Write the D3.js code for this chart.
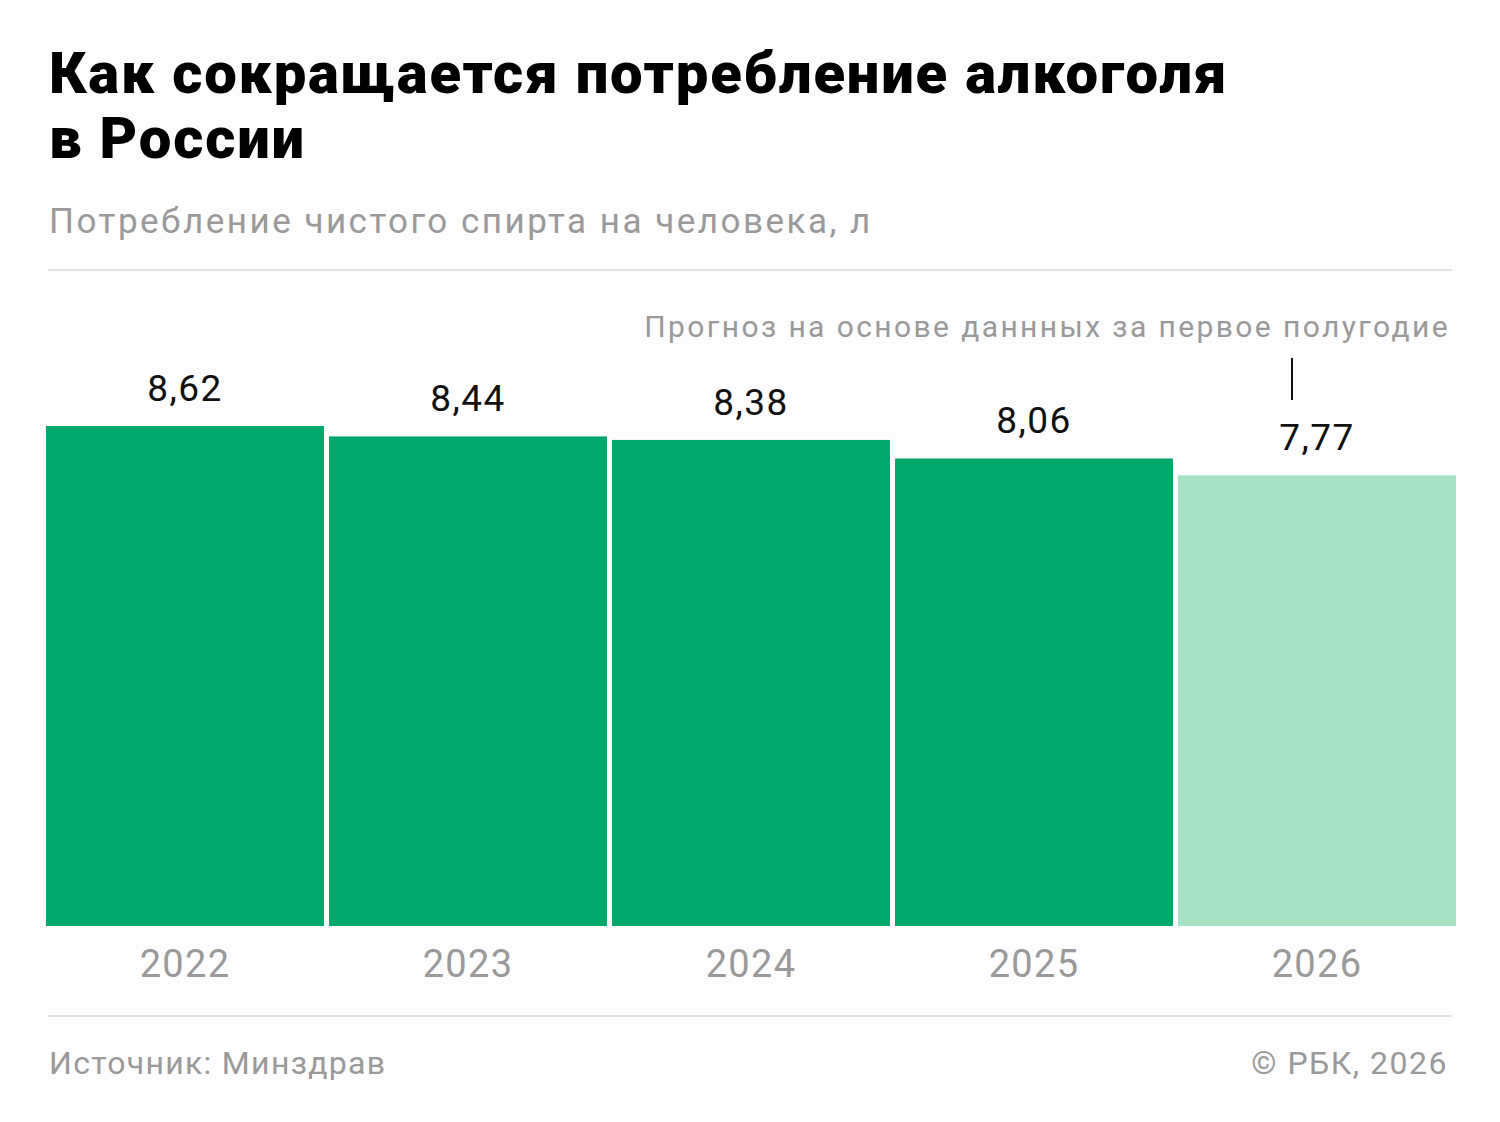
<!DOCTYPE html>
<html>
<head>
<meta charset="utf-8">
<script src="https://cdn.jsdelivr.net/npm/d3@7"></script>
<style>
  html, body { margin: 0; padding: 0; background: #fdfdfd; }
  svg { display: block; font-family: Roboto, "Noto Sans", sans-serif; }
</style>
</head>
<body>
<svg id="chart_svg" width="1500" height="1122"></svg>
<script>
// data
const years = ["2022", "2023", "2024", "2025", "2026"]
const values = [8.62, 8.44, 8.38, 8.06, 7.77]
const forecast = [false, false, false, false, true]
const value_labels = ["8,62", "8,44", "8,38", "8,06", "7,77"]

const title_lines = ["Как сокращается потребление алкоголя", "в России"]
const subtitle = "Потребление чистого спирта на человека, л"
const note = "Прогноз на основе даннных за первое полугодие"
const source = "Источник: Минздрав"
const copyright = "© РБК, 2026"

const width = 1500
const height = 1122
const margin = { left: 46, right: 44, top: 426, bottom: 196 }

let svg = d3.select("#chart_svg")

svg.append("rect")
  .attr("width", width)
  .attr("height", height)
  .attr("fill", "#fdfdfd")

/**
 * Title and subtitle
 */
svg.selectAll(".title")
  .data(title_lines)
  .enter()
  .append("text")
  .attr("class", "title")
  .attr("x", 49)
  .attr("y", (d, i) => 93 + i * 65)
  .attr("font-size", 58)
  .attr("font-weight", 900)
  .attr("letter-spacing", 1.8)
  .attr("fill", "#000")
  .text((d) => d)

svg.append("text")
  .attr("x", 49)
  .attr("y", 233)
  .attr("font-size", 35)
  .attr("letter-spacing", 2.5)
  .attr("fill", "#9a9a9a")
  .text(subtitle)

svg.append("line")
  .attr("x1", 48).attr("x2", 1452)
  .attr("y1", 270).attr("y2", 270)
  .attr("stroke", "#e2e2e2")
  .attr("stroke-width", 2)

/**
 * Scales
 */
const xScale = d3.scaleBand()
  .domain(years)
  .range([margin.left, width - margin.right])
  .paddingInner(0.0177)
  .paddingOuter(0)

const yScale = d3.scaleLinear()
  .domain([0, d3.max(values)])
  .range([height - margin.bottom, margin.top])

const data = years.map((y, i) => ({ year: y, value: values[i], label: value_labels[i], forecast: forecast[i] }))

/**
 * Bars
 */
svg.selectAll(".bar")
  .data(data)
  .enter()
  .append("rect")
  .attr("class", "bar")
  .attr("x", (d) => xScale(d.year))
  .attr("y", (d) => yScale(d.value))
  .attr("width", xScale.bandwidth())
  .attr("height", (d) => yScale(0) - yScale(d.value))
  .attr("fill", (d) => d.forecast ? "#a8e2c6" : "#00a86b")

svg.selectAll(".value_label")
  .data(data)
  .enter()
  .append("text")
  .attr("class", "value_label")
  .attr("x", (d) => xScale(d.year) + xScale.bandwidth() / 2)
  .attr("y", (d) => yScale(d.value) - 25)
  .attr("text-anchor", "middle")
  .attr("font-size", 37)
  .attr("letter-spacing", 1.5)
  .attr("fill", "#111")
  .text((d) => d.label)

/**
 * Year labels (x axis)
 */
let x_axis = d3.axisBottom(xScale).tickSize(0).tickPadding(0)
let g_x_axis = svg.append("g")
  .attr("transform", "translate(0," + yScale(0) + ")")
  .call(x_axis)
g_x_axis.select(".domain").remove()
g_x_axis.selectAll("text")
  .attr("dy", null)
  .attr("y", 51)
  .attr("font-size", 38)
  .attr("letter-spacing", 1.3)
  .attr("font-family", "Roboto, 'Noto Sans', sans-serif")
  .attr("fill", "#9a9a9a")

/**
 * Forecast note
 */
svg.append("text")
  .attr("x", 1450)
  .attr("y", 337)
  .attr("text-anchor", "end")
  .attr("font-size", 30)
  .attr("letter-spacing", 2.4)
  .attr("fill", "#9a9a9a")
  .text(note)

svg.append("line")
  .attr("x1", 1292).attr("x2", 1292)
  .attr("y1", 358).attr("y2", 400)
  .attr("stroke", "#111")
  .attr("stroke-width", 2)

/**
 * Footer
 */
svg.append("line")
  .attr("x1", 48).attr("x2", 1452)
  .attr("y1", 1016).attr("y2", 1016)
  .attr("stroke", "#e2e2e2")
  .attr("stroke-width", 2)

svg.append("text")
  .attr("x", 49)
  .attr("y", 1074)
  .attr("font-size", 32)
  .attr("letter-spacing", 1.3)
  .attr("fill", "#9a9a9a")
  .text(source)

svg.append("text")
  .attr("x", 1448)
  .attr("y", 1074)
  .attr("text-anchor", "end")
  .attr("font-size", 32)
  .attr("letter-spacing", 1.5)
  .attr("fill", "#9a9a9a")
  .text(copyright)
</script>
</body>
</html>
